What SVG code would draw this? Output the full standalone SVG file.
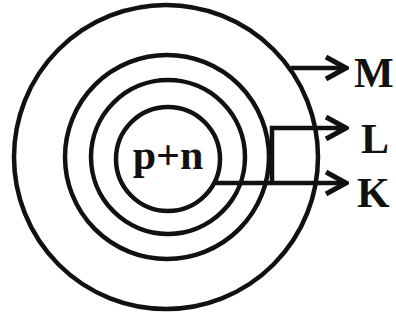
<svg xmlns="http://www.w3.org/2000/svg" width="396" height="320" viewBox="0 0 396 320">
<style>
.ring{fill:none;stroke:#111;stroke-width:4.5}
.conn{fill:none;stroke:#111;stroke-width:4.5;stroke-linejoin:miter}
.lbl{font-family:"Liberation Serif","DejaVu Serif",serif;font-size:42px;font-weight:bold;fill:#111}
</style>
<defs>
<marker id="arr" viewBox="0 0 26 26" refX="23" refY="13" markerWidth="26" markerHeight="26" orient="auto" markerUnits="userSpaceOnUse">
<path d="M3,2 L23,13 L3,24" fill="none" stroke="#111" stroke-width="5" stroke-linejoin="miter"/>
</marker>
</defs>
<rect width="396" height="320" fill="#fff"/>
<g id="shell-M"><circle class="ring" cx="166" cy="157" r="152"/></g>
<g id="shell-L"><circle class="ring" cx="167" cy="157" r="102"/></g>
<g id="shell-K"><circle class="ring" cx="168" cy="157" r="77"/></g>
<g id="nucleus"><circle class="ring" cx="168" cy="159" r="52"/><text class="lbl" x="168" y="169" text-anchor="middle" font-size="33">p+n</text></g>
<g id="connectors">
<path class="conn" d="M291,68 H346" marker-end="url(#arr)"/>
<path class="conn" d="M272,183 V128 H346" marker-end="url(#arr)"/>
<path class="conn" d="M216,183 H346" marker-end="url(#arr)"/>
</g>
<g id="label-M"><text class="lbl" x="354" y="87">M</text></g>
<g id="label-L"><text class="lbl" x="361" y="153">L</text></g>
<g id="label-K"><text class="lbl" x="357" y="207">K</text></g>
</svg>
